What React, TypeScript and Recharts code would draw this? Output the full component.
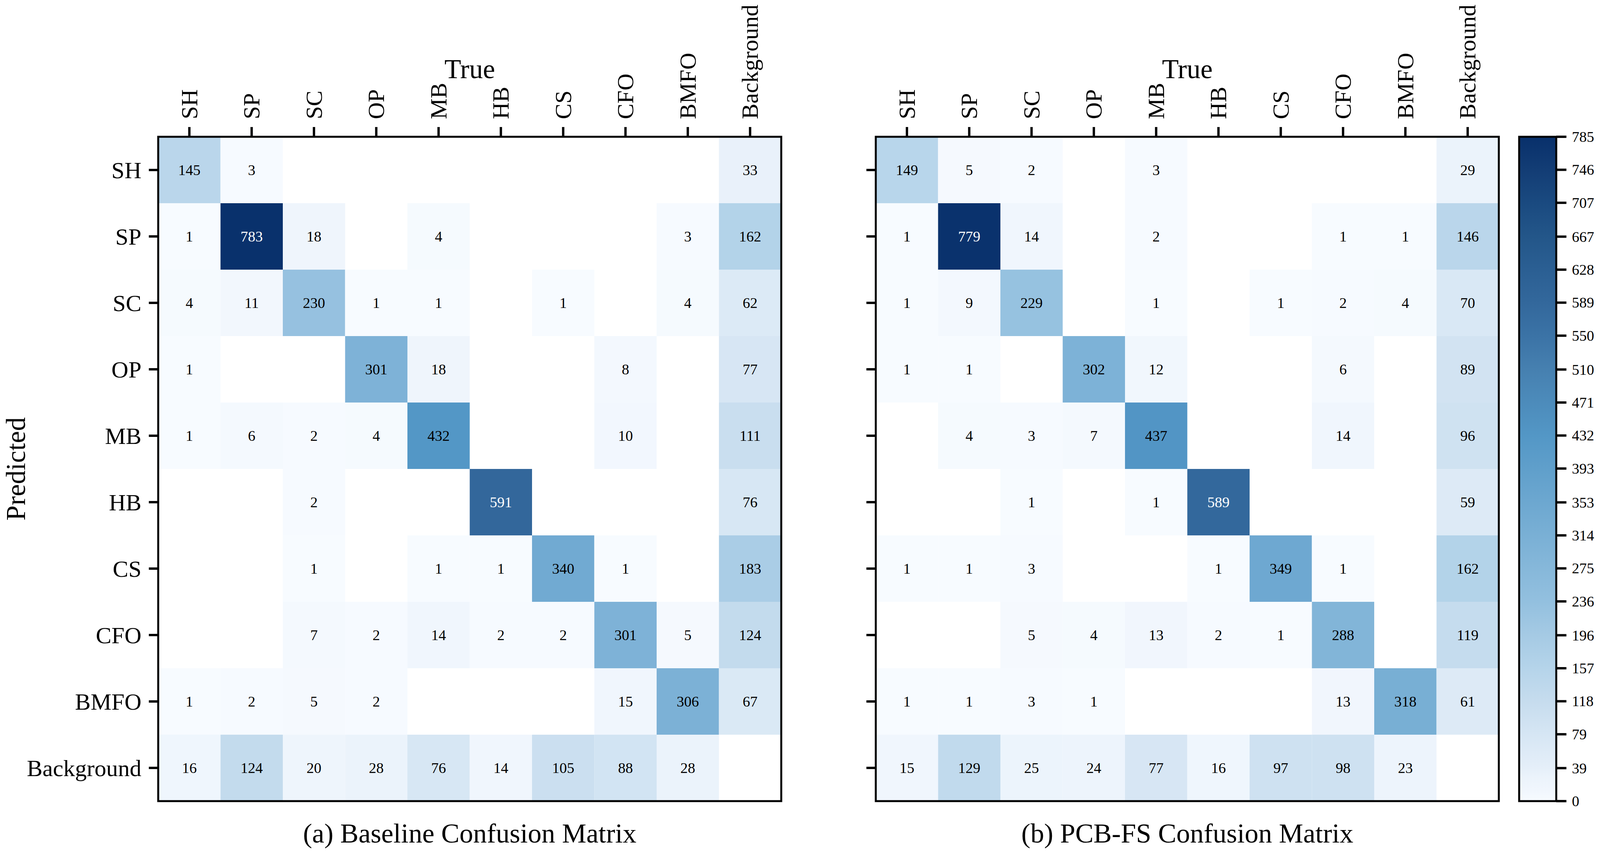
import React from 'react';
import { ScatterChart, Scatter, XAxis, YAxis, ReferenceArea } from 'recharts';

// rows = predicted class, columns = true class
const classes = ['SH', 'SP', 'SC', 'OP', 'MB', 'HB', 'CS', 'CFO', 'BMFO', 'Background'];

const baselineMatrix = [
  [145, 3, 0, 0, 0, 0, 0, 0, 0, 33],
  [1, 783, 18, 0, 4, 0, 0, 0, 3, 162],
  [4, 11, 230, 1, 1, 0, 1, 0, 4, 62],
  [1, 0, 0, 301, 18, 0, 0, 8, 0, 77],
  [1, 6, 2, 4, 432, 0, 0, 10, 0, 111],
  [0, 0, 2, 0, 0, 591, 0, 0, 0, 76],
  [0, 0, 1, 0, 1, 1, 340, 1, 0, 183],
  [0, 0, 7, 2, 14, 2, 2, 301, 5, 124],
  [1, 2, 5, 2, 0, 0, 0, 15, 306, 67],
  [16, 124, 20, 28, 76, 14, 105, 88, 28, 0],
];

const pcbfsMatrix = [
  [149, 5, 2, 0, 3, 0, 0, 0, 0, 29],
  [1, 779, 14, 0, 2, 0, 0, 1, 1, 146],
  [1, 9, 229, 0, 1, 0, 1, 2, 4, 70],
  [1, 1, 0, 302, 12, 0, 0, 6, 0, 89],
  [0, 4, 3, 7, 437, 0, 0, 14, 0, 96],
  [0, 0, 1, 0, 1, 589, 0, 0, 0, 59],
  [1, 1, 3, 0, 0, 1, 349, 1, 0, 162],
  [0, 0, 5, 4, 13, 2, 1, 288, 0, 119],
  [1, 1, 3, 1, 0, 0, 0, 13, 318, 61],
  [15, 129, 25, 24, 77, 16, 97, 98, 23, 0],
];

const colorbarTicks = [0, 39, 79, 118, 157, 196, 236, 275, 314, 353, 393, 432, 471, 510, 550, 589, 628, 667, 707, 746, 785];
const colorMax = 785;

const FONT = "'Liberation Serif', 'Times New Roman', Times, serif";

// blue ramp sampled off the colorbar
const ramp: [number, string][] = [
  [0.0, '#f7fbff'],
  [0.018, '#f0f6fd'],
  [0.037, '#ebf3fb'],
  [0.05, '#e5eff9'],
  [0.1, '#d6e6f4'],
  [0.15, '#c6dcee'],
  [0.2, '#b5d4ea'],
  [0.25, '#a5cae4'],
  [0.3, '#93c0df'],
  [0.55, '#5397c6'],
  [0.65, '#4680b0'],
  [0.7, '#3b73a6'],
  [0.75, '#33689c'],
  [0.8, '#2b5f93'],
  [0.85, '#235689'],
  [0.9, '#1a4a80'],
  [0.95, '#133d75'],
  [1.0, '#08306b'],
];

const hex = (h: string) => [1, 3, 5].map((i) => parseInt(h.slice(i, i + 2), 16));

const cellColor = (v: number) => {
  const t = Math.min(1, Math.max(0, v / colorMax));
  for (let i = 1; i < ramp.length; i++) {
    if (t <= ramp[i][0]) {
      const [t0, c0] = ramp[i - 1];
      const [t1, c1] = ramp[i];
      const f = (t - t0) / (t1 - t0);
      const a = hex(c0);
      const b = hex(c1);
      return `rgb(${a.map((x, k) => Math.round(x + (b[k] - x) * f)).join(',')})`;
    }
  }
  return ramp[ramp.length - 1][1];
};

// the photographed page is only ~4096px wide, so squeeze the horizontal layout to fit
const SX = 4096 / 4313;
const px = (v: number) => Math.round(v * SX);

const PLOT_W = px(1680);
const HEIGHT = 2193;
const TOP = 50;
const X_AXIS_H = 300;
const CAPTION_H = 143;
const tickStyle = { stroke: '#000', strokeWidth: 6 };

const ColTick = ({ x, y, payload }: any) => (
  <text
    transform={`translate(${x},${y}) rotate(-90)`}
    dy={20}
    textAnchor="start"
    fontSize={60}
    fontFamily={FONT}
    fill="#000"
  >
    {classes[Math.round(payload.value - 0.5)]}
  </text>
);

const RowTick = ({ x, y, payload }: any) => (
  <text x={x} y={y} dy={21} textAnchor="end" fontSize={60} fontFamily={FONT} fill="#000">
    {classes[Math.round(payload.value - 0.5)]}
  </text>
);

const NoTick = () => <g />;

const CbTick = ({ x, y, payload }: any) => (
  <text x={x} y={y} dy={13} textAnchor="start" fontSize={38} fontFamily={FONT} fill="#000">
    {payload.value}
  </text>
);

const TrueTitle = ({ viewBox }: any) => {
  const vb = viewBox || { x: 0, y: TOP, width: PLOT_W, height: X_AXIS_H };
  return (
    <text x={vb.x + vb.width / 2} y={vb.y + 150} textAnchor="middle" fontSize={70} fontFamily={FONT} fill="#000">
      True
    </text>
  );
};

const PredTitle = ({ viewBox }: any) => {
  const vb = viewBox || { x: 0, y: TOP + X_AXIS_H, width: px(426), height: 1700 };
  return (
    <text
      transform={`translate(${vb.x + 64},${vb.y + vb.height / 2}) rotate(-90)`}
      textAnchor="middle"
      fontSize={70}
      fontFamily={FONT}
      fill="#000"
    >
      Predicted
    </text>
  );
};

const Caption = ({ viewBox, text }: any) => {
  const vb = viewBox || { x: 0, y: HEIGHT - CAPTION_H, width: PLOT_W, height: CAPTION_H };
  return (
    <text x={vb.x + vb.width / 2} y={vb.y + 106} textAnchor="middle" fontSize={70} fontFamily={FONT} fill="#000">
      {text}
    </text>
  );
};

const CellText = (props: any) => {
  const { cx, cy, payload } = props;
  return (
    <text
      x={cx}
      y={cy}
      dy={13}
      textAnchor="middle"
      fontSize={38}
      fontFamily={FONT}
      fill={payload.v > 550 ? '#fff' : '#000'}
    >
      {payload.v}
    </text>
  );
};

const Invisible = () => <g />;

interface MatrixProps {
  data: number[][];
  caption: string;
  left: number;
  yAxisWidth: number;
  rightMargin: number;
  rowLabels: boolean;
}

const Matrix = ({ data, caption, left, yAxisWidth, rightMargin, rowLabels }: MatrixProps) => {
  const cells: { x: number; y: number; v: number; r: number; c: number }[] = [];
  data.forEach((row, r) =>
    row.forEach((v, c) => {
      if (v > 0) cells.push({ x: c + 0.5, y: r + 0.5, v, r, c });
    })
  );
  const ticks = classes.map((_, i) => i + 0.5);
  const n = classes.length;

  return (
    <div style={{ position: 'absolute', left, top: 0 }}>
      <ScatterChart
        width={yAxisWidth + PLOT_W + rightMargin}
        height={HEIGHT}
        margin={{ top: TOP, right: rightMargin, bottom: 0, left: 0 }}
      >
        <XAxis
          type="number"
          dataKey="x"
          orientation="top"
          domain={[0, n]}
          ticks={ticks}
          interval={0}
          height={X_AXIS_H}
          tickSize={25}
          tickMargin={20}
          axisLine={false}
          tickLine={tickStyle}
          tick={ColTick}
          label={<TrueTitle />}
        />
        <XAxis
          xAxisId="cap"
          type="number"
          orientation="bottom"
          domain={[0, n]}
          height={CAPTION_H}
          tick={false}
          tickLine={false}
          axisLine={false}
          label={<Caption text={caption} />}
        />
        <YAxis
          type="number"
          dataKey="y"
          domain={[0, n]}
          reversed
          ticks={ticks}
          interval={0}
          width={yAxisWidth}
          tickSize={px(25)}
          tickMargin={px(20)}
          axisLine={false}
          tickLine={tickStyle}
          tick={rowLabels ? RowTick : NoTick}
          label={rowLabels ? <PredTitle /> : undefined}
        />
        {cells.map((d) => (
          <ReferenceArea
            key={`cell-${d.r}-${d.c}`}
            x1={d.c}
            x2={d.c + 1}
            y1={d.r}
            y2={d.r + 1}
            fill={cellColor(d.v)}
            fillOpacity={1}
            stroke="none"
          />
        ))}
        <ReferenceArea x1={0} x2={n} y1={0} y2={n} fill="none" stroke="#000" strokeWidth={5} />
        <Scatter data={cells} isAnimationActive={false} shape={CellText} />
      </ScatterChart>
    </div>
  );
};

const ColorBar = () => {
  const points = colorbarTicks.map((t) => ({ x: 0.5, y: t }));
  return (
    <div style={{ position: 'absolute', left: px(4070), top: 0 }}>
      <ScatterChart
        width={px(25) + px(100) + px(118)}
        height={HEIGHT}
        margin={{ top: TOP + X_AXIS_H, right: 0, bottom: CAPTION_H, left: px(25) }}
      >
        <defs>
          <linearGradient id="cbGrad" x1="0" y1="1" x2="0" y2="0">
            {ramp.map(([t, c]) => (
              <stop key={t} offset={t} stopColor={c} />
            ))}
          </linearGradient>
        </defs>
        <XAxis type="number" dataKey="x" domain={[0, 1]} height={0} tick={false} tickLine={false} axisLine={false} />
        <YAxis
          type="number"
          dataKey="y"
          orientation="right"
          domain={[0, colorMax]}
          ticks={colorbarTicks}
          interval={0}
          width={px(118)}
          tickSize={px(27)}
          tickMargin={px(15)}
          axisLine={false}
          tickLine={tickStyle}
          tick={CbTick}
        />
        <ReferenceArea
          x1={0}
          x2={1}
          y1={0}
          y2={colorMax}
          fill="url(#cbGrad)"
          fillOpacity={1}
          stroke="#000"
          strokeWidth={5}
        />
        <Scatter data={points} isAnimationActive={false} shape={Invisible} />
      </ScatterChart>
    </div>
  );
};

export default function App() {
  return (
    <div
      style={{
        position: 'absolute',
        left: 0,
        top: 0,
        width: px(4313),
        height: HEIGHT,
        background: '#fff',
        fontFamily: FONT,
      }}
    >
      <Matrix
        data={baselineMatrix}
        caption="(a) Baseline Confusion Matrix"
        left={0}
        yAxisWidth={px(426)}
        rightMargin={px(94)}
        rowLabels
      />
      <Matrix
        data={pcbfsMatrix}
        caption="(b) PCB-FS Confusion Matrix"
        left={px(2261)}
        yAxisWidth={px(100)}
        rightMargin={px(29)}
        rowLabels={false}
      />
      <ColorBar />
    </div>
  );
}
